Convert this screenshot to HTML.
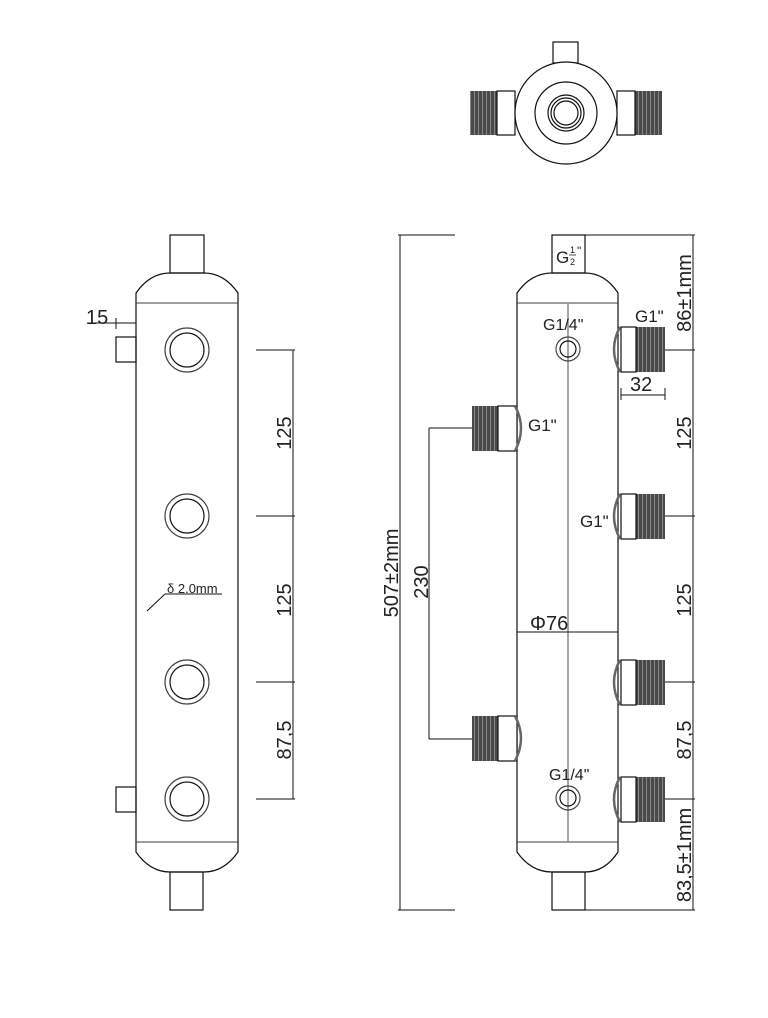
<!DOCTYPE html>
<html><head><meta charset="utf-8"><style>
html,body{margin:0;padding:0;background:#fff}
svg{display:block}
text{font-family:"Liberation Sans",sans-serif;fill:#222}
</style></head><body>
<svg width="768" height="1018" viewBox="0 0 768 1018" xmlns="http://www.w3.org/2000/svg">
<defs>
<pattern id="thr" width="4" height="4" patternUnits="userSpaceOnUse">
<rect width="4" height="4" fill="#4a4a4a"/><rect x="2" width="1" height="4" fill="#888"/>
</pattern>
</defs>
<g fill="none" stroke="#111" stroke-width="1.2">
<!-- TOP VIEW -->
<rect x="553" y="42" width="25" height="21" fill="#fff"/>
<rect x="470" y="91" width="27" height="44" fill="url(#thr)" stroke="none"/>
<rect x="497" y="91" width="18" height="44" fill="#fff"/>
<rect x="635" y="91" width="27" height="44" fill="url(#thr)" stroke="none"/>
<rect x="617" y="91" width="18" height="44" fill="#fff"/>
<circle cx="566" cy="113" r="51" fill="#fff"/>
<circle cx="566" cy="113" r="31"/>
<circle cx="566" cy="113" r="18"/>
<circle cx="566" cy="113" r="15"/>
<circle cx="566" cy="113" r="12"/>

<!-- LEFT VIEW -->
<rect x="170" y="235" width="34" height="38"/>
<path d="M136 303 L136 293 Q150 273 170 273 L204 273 Q224 273 238 293 L238 303"/>
<line x1="136" y1="303" x2="238" y2="303" stroke="#666"/>
<line x1="136" y1="303" x2="136" y2="842"/>
<line x1="238" y1="303" x2="238" y2="842"/>
<line x1="136" y1="842" x2="238" y2="842" stroke="#666"/>
<path d="M136 842 L136 852 Q150 872 170 872 L204 872 Q224 872 238 852 L238 842"/>
<rect x="170" y="872" width="33" height="38"/>
<rect x="116" y="337" width="20" height="25"/>
<rect x="116" y="787" width="20" height="25"/>
<circle cx="187" cy="350" r="22" stroke="#444"/><circle cx="187" cy="350" r="17"/>
<circle cx="187" cy="516" r="22" stroke="#444"/><circle cx="187" cy="516" r="17"/>
<circle cx="187" cy="682" r="22" stroke="#444"/><circle cx="187" cy="682" r="17"/>
<circle cx="187" cy="799" r="22" stroke="#444"/><circle cx="187" cy="799" r="17"/>
<line x1="87" y1="323" x2="136" y2="323" stroke-width="1"/>
<line x1="116" y1="318" x2="116" y2="329" stroke-width="1"/>
<line x1="165" y1="594" x2="222" y2="594" stroke-width="1"/>
<line x1="165" y1="594" x2="147" y2="611" stroke-width="1"/>
<g stroke-width="1">
<line x1="256" y1="350" x2="295" y2="350"/>
<line x1="256" y1="516" x2="295" y2="516"/>
<line x1="256" y1="682" x2="295" y2="682"/>
<line x1="256" y1="799" x2="295" y2="799"/>
<line x1="293" y1="350" x2="293" y2="799"/>
</g>

<!-- RIGHT VIEW -->
<rect x="552" y="235" width="33" height="38"/>
<path d="M517 303 L517 293 Q531 273 552 273 L585 273 Q605 273 618 293 L618 303"/>
<line x1="517" y1="303" x2="618" y2="303" stroke="#666"/>
<line x1="517" y1="303" x2="517" y2="842"/>
<line x1="618" y1="303" x2="618" y2="842"/>
<line x1="517" y1="842" x2="618" y2="842" stroke="#666"/>
<path d="M517 842 L517 852 Q531 872 552 872 L585 872 Q605 872 618 852 L618 842"/>
<rect x="552" y="872" width="33" height="38"/>
<line x1="568" y1="303" x2="568" y2="842" stroke="#888" stroke-width="1.5"/>
<circle cx="568" cy="349" r="12" stroke="#444"/><circle cx="568" cy="349" r="8"/>
<circle cx="568" cy="798" r="12" stroke="#444"/><circle cx="568" cy="798" r="8"/>
<!-- right fittings -->
<g>
<rect x="636" y="327" width="29" height="45" fill="url(#thr)" stroke="none"/>
<rect x="621" y="327" width="15" height="45" fill="#fff"/>
<path d="M620 327 Q608 349 620 372" stroke="#666" stroke-width="2.5"/>
<rect x="636" y="494" width="29" height="45" fill="url(#thr)" stroke="none"/>
<rect x="621" y="494" width="15" height="45" fill="#fff"/>
<path d="M620 494 Q608 516 620 539" stroke="#666" stroke-width="2.5"/>
<rect x="636" y="660" width="29" height="45" fill="url(#thr)" stroke="none"/>
<rect x="621" y="660" width="15" height="45" fill="#fff"/>
<path d="M620 660 Q608 682 620 705" stroke="#666" stroke-width="2.5"/>
<rect x="636" y="777" width="29" height="45" fill="url(#thr)" stroke="none"/>
<rect x="621" y="777" width="15" height="45" fill="#fff"/>
<path d="M620 777 Q608 799 620 822" stroke="#666" stroke-width="2.5"/>
<!-- left fittings -->
<rect x="472" y="406" width="26" height="45" fill="url(#thr)" stroke="none"/>
<rect x="498" y="406" width="19" height="45" fill="#fff"/>
<path d="M515 406 Q527 428 515 451" stroke="#666" stroke-width="2.5"/>
<rect x="472" y="716" width="26" height="45" fill="url(#thr)" stroke="none"/>
<rect x="498" y="716" width="19" height="45" fill="#fff"/>
<path d="M515 716 Q527 738 515 761" stroke="#666" stroke-width="2.5"/>
</g>
<g stroke-width="1">
<line x1="585" y1="235" x2="695" y2="235"/>
<line x1="585" y1="910" x2="695" y2="910"/>
<line x1="398" y1="235" x2="455" y2="235"/>
<line x1="398" y1="910" x2="455" y2="910"/>
<line x1="400" y1="235" x2="400" y2="910"/>
<line x1="693" y1="235" x2="693" y2="910"/>
<line x1="665" y1="350" x2="695" y2="350"/>
<line x1="665" y1="516" x2="695" y2="516"/>
<line x1="665" y1="682" x2="695" y2="682"/>
<line x1="665" y1="799" x2="695" y2="799"/>
<line x1="621" y1="395" x2="665" y2="395"/>
<line x1="621" y1="388" x2="621" y2="400"/>
<line x1="665" y1="388" x2="665" y2="400"/>
<line x1="429" y1="428" x2="472" y2="428"/>
<line x1="429" y1="739" x2="472" y2="739"/>
<line x1="429" y1="428" x2="429" y2="739"/>
<line x1="517" y1="632" x2="618" y2="632"/>
</g>
</g>

<!-- TEXT -->
<text x="86" y="324" font-size="20">15</text>
<text x="167" y="593" font-size="13">δ 2.0mm</text>
<text font-size="20" text-anchor="middle" transform="translate(291,433) rotate(-90)">125</text>
<text font-size="20" text-anchor="middle" transform="translate(291,600) rotate(-90)">125</text>
<text font-size="20" text-anchor="middle" transform="translate(291,740) rotate(-90)">87,5</text>

<text x="556" y="263" font-size="17">G</text>
<text x="570" y="253" font-size="9">1</text>
<text x="570" y="265" font-size="9">2</text>
<line x1="569" y1="255" x2="576" y2="255" stroke="#222" stroke-width="0.8"/>
<text x="577" y="255" font-size="12">"</text>
<text x="543" y="330" font-size="16">G1/4"</text>
<text x="549" y="780" font-size="16">G1/4"</text>
<text x="635" y="322" font-size="17">G1"</text>
<text x="528" y="431" font-size="17">G1"</text>
<text x="580" y="527" font-size="17">G1"</text>
<text x="630" y="391" font-size="20">32</text>
<text x="530" y="630" font-size="20">Φ76</text>
<text font-size="20" text-anchor="middle" transform="translate(398,573) rotate(-90)">507±2mm</text>
<text font-size="20" text-anchor="middle" transform="translate(428,582) rotate(-90)">230</text>
<text font-size="20" text-anchor="middle" transform="translate(691,293) rotate(-90)">86±1mm</text>
<text font-size="20" text-anchor="middle" transform="translate(691,433) rotate(-90)">125</text>
<text font-size="20" text-anchor="middle" transform="translate(691,600) rotate(-90)">125</text>
<text font-size="20" text-anchor="middle" transform="translate(691,740) rotate(-90)">87,5</text>
<text font-size="20" text-anchor="middle" transform="translate(691,855) rotate(-90)">83,5±1mm</text>
</svg>
</body></html>
